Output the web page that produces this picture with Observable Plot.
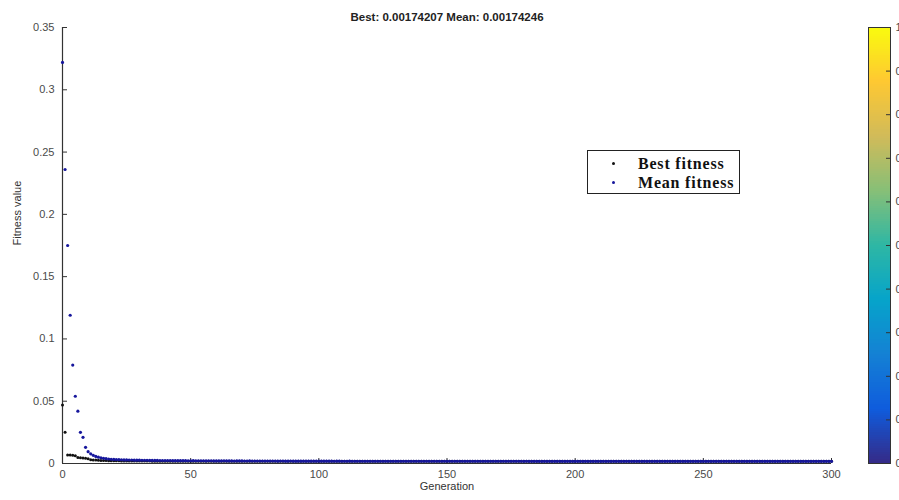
<!DOCTYPE html>
<html>
<head>
<meta charset="utf-8">
<script src="https://cdn.jsdelivr.net/npm/d3@7"></script>
<script src="https://cdn.jsdelivr.net/npm/@observablehq/plot@0.6"></script>
<style>
  body { margin: 0; background: #fff; }
  #wrap { position: relative; width: 899px; height: 500px; overflow: hidden; background: #fff; }
  #wrap svg { position: absolute; left: 0; top: 0; }
  #legend { position: absolute; left: 587px; top: 150px; width: 151px; height: 42px;
            border: 1px solid #222; background: #fff; font-family: "Liberation Serif", "Times New Roman", serif;
            font-weight: bold; font-size: 16px; color: #111; }
  #legend .row { position: absolute; left: 0; height: 20px; line-height: 20px; white-space: nowrap; }
  #legend .dot { position: absolute; left: 24px; top: 8px; width: 3px; height: 3px; border-radius: 50%; }
  #legend .lab { position: absolute; left: 50px; top: 0; letter-spacing: 0.8px; }
</style>
</head>
<body>
<div id="wrap"></div>
<script>
// ---- data ----
const titleText = "Best: 0.00174207 Mean: 0.00174246";
const xLabel = "Generation";
const yLabel = "Fitness value";
const seriesNames = ["Best fitness", "Mean fitness"];
const seriesColors = ["#111111", "#16169c"];
const xTicks = [0, 50, 100, 150, 200, 250, 300];
const xTickLabels = ["0", "50", "100", "150", "200", "250", "300"];
const yTicks = [0, 0.05, 0.1, 0.15, 0.2, 0.25, 0.3, 0.35];
const yTickLabels = ["0", "0.05", "0.1", "0.15", "0.2", "0.25", "0.3", "0.35"];
const cbTicks = [0, 0.1, 0.2, 0.3, 0.4, 0.5, 0.6, 0.7, 0.8, 0.9, 1];
const cbTickLabels = ["0", "0.1", "0.2", "0.3", "0.4", "0.5", "0.6", "0.7", "0.8", "0.9", "1"];
const parulaStops = [0, 0.125, 0.25, 0.375, 0.5, 0.625, 0.75, 0.875, 1];
const parulaColors = ["#352a87", "#0f5cdd", "#1481d4", "#06a4ca", "#2eb7a4", "#87bf77", "#d1bb59", "#fec832", "#f9fb0e"];

// Mean fitness per generation (0..300)
const meanFitness = [
  0.322,0.236,0.175,0.119,0.079,0.054,0.042,0.025,0.021,0.013,
  0.0095,0.0078,0.0066,0.0057,0.0051,0.0046,0.0042,0.0039,0.0036,0.0034,
  0.0033,0.0032,0.0031,0.0030,0.0029,0.0029,0.0028,0.0028,0.0027,0.0027,
  0.0027,0.0026,0.0026,0.0026,0.0025,0.0025,0.0025,0.0025,0.0024,0.0024,
  0.0024,0.0024,0.0024,0.0023,0.0023,0.0023,0.0023,0.0023,0.0023,0.0022,
  0.0022,0.0023,0.0022,0.0022,0.0022,0.0022,0.0021,0.0022,0.0022,0.0021,
  0.0021,0.0021,0.0021,0.0022,0.0021,0.0021,0.0021,0.0020,0.0021,0.0021,
  0.0021,0.0020,0.0020,0.0021,0.0020,0.0020,0.0020,0.0020,0.0020,0.0020,
  0.0020,0.0020,0.0020,0.0020,0.0019,0.0020,0.0020,0.0019,0.0019,0.0020,
  0.0019,0.0019,0.0019,0.0019,0.0019,0.0019,0.0019,0.0019,0.0019,0.0019,
  0.0019,0.0019,0.0019,0.0019,0.0019,0.0019,0.0018,0.0019,0.0019,0.0018,
  0.0018,0.0018,0.0019,0.0018,0.0018,0.0018,0.0018,0.0018,0.0018,0.0018,
  0.0018,0.0018,0.0018,0.0018,0.0018,0.0018,0.0018,0.0018,0.0018,0.0018,
  0.0018,0.0018,0.0018,0.0018,0.0018,0.0018,0.0018,0.0018,0.0018,0.0018,
  0.0018,0.0018,0.0018,0.0018,0.0018,0.0018,0.0018,0.0018,0.0018,0.0018,
  0.0018,0.0018,0.0018,0.0018,0.0018,0.0018,0.0018,0.0018,0.0018,0.0018,
  0.00179,0.0018,0.0018,0.00179,0.0018,0.00179,0.00179,0.0018,0.00179,0.00179,
  0.00179,0.00179,0.00179,0.00179,0.00179,0.00179,0.00179,0.00179,0.00179,0.00179,
  0.00178,0.00179,0.00178,0.00178,0.00178,0.00178,0.00178,0.00178,0.00178,0.00178,
  0.00178,0.00178,0.00178,0.00178,0.00178,0.00178,0.00178,0.00178,0.00178,0.00178,
  0.00177,0.00177,0.00177,0.00177,0.00177,0.00177,0.00177,0.00177,0.00177,0.00177,
  0.00177,0.00177,0.00177,0.00177,0.00177,0.00177,0.00177,0.00177,0.00177,0.00177,
  0.00176,0.00176,0.00176,0.00176,0.00176,0.00176,0.00176,0.00176,0.00176,0.00176,
  0.00176,0.00176,0.00176,0.00176,0.00176,0.00176,0.00176,0.00176,0.00176,0.00176,
  0.00176,0.00176,0.00176,0.00175,0.00175,0.00175,0.00175,0.00175,0.00175,0.00175,
  0.00175,0.00175,0.00175,0.00175,0.00175,0.00175,0.00175,0.00175,0.00175,0.00175,
  0.00175,0.00175,0.00175,0.00175,0.00175,0.00175,0.00175,0.00175,0.00175,0.00175,
  0.00175,0.00175,0.00175,0.00175,0.00175,0.00175,0.00175,0.00175,0.00175,0.00175,
  0.00175,0.00175,0.00175,0.00175,0.00175,0.00175,0.00175,0.00175,0.00175,0.00175,
  0.00175,0.00175,0.00175,0.00175,0.00175,0.00175,0.00175,0.00175,0.00175,0.00174,
  0.00174246
];

// Best fitness per generation (0..300)
const bestFitness = [
  0.047,0.025,0.0068,0.0068,0.0066,0.0062,0.0048,0.0047,0.0045,0.0043,
  0.0038,0.0031,0.0029,0.0028,0.0026,0.0025,0.0024,0.0024,0.0023,0.0023,
  0.0022,0.0022,0.0022,0.0021,0.0021,0.0021,0.0021,0.0020,0.0020,0.0020,
  0.0020,0.0020,0.0020,0.0020,0.0020,0.0019,0.0019,0.0019,0.0019,0.0019,
  0.0019,0.0019,0.0019,0.0019,0.0019,0.0019,0.0019,0.0019,0.0019,0.0019,
  0.0019,0.0019,0.0019,0.0019,0.0019,0.0019,0.0019,0.0019,0.0019,0.0019,
  0.0019,0.0019,0.0019,0.00185,0.00185,0.00185,0.00185,0.00185,0.00185,0.00185,
  0.00185,0.00185,0.00185,0.00185,0.00185,0.00185,0.00185,0.00185,0.00185,0.00185,
  0.00185,0.00185,0.00185,0.00185,0.00185,0.00185,0.00185,0.00185,0.00185,0.00185,
  0.00185,0.00185,0.00185,0.00185,0.00185,0.00185,0.00185,0.00185,0.00185,0.00185,
  0.0018,0.0018,0.0018,0.0018,0.0018,0.0018,0.0018,0.0018,0.0018,0.0018,
  0.0018,0.0018,0.0018,0.0018,0.0018,0.0018,0.0018,0.0018,0.0018,0.0018,
  0.0018,0.0018,0.0018,0.0018,0.0018,0.0018,0.0018,0.0018,0.0018,0.0018,
  0.0018,0.0018,0.0018,0.0018,0.0018,0.0018,0.0018,0.0018,0.0018,0.0018,
  0.0018,0.0018,0.0018,0.0018,0.0018,0.0018,0.0018,0.0018,0.0018,0.0018,
  0.00178,0.00178,0.00178,0.00178,0.00178,0.00178,0.00178,0.00178,0.00178,0.00178,
  0.00178,0.00178,0.00178,0.00178,0.00178,0.00178,0.00178,0.00178,0.00178,0.00178,
  0.00177,0.00177,0.00177,0.00177,0.00177,0.00177,0.00177,0.00177,0.00177,0.00177,
  0.00177,0.00177,0.00177,0.00177,0.00177,0.00177,0.00177,0.00177,0.00177,0.00177,
  0.00177,0.00177,0.00177,0.00177,0.00177,0.00177,0.00177,0.00177,0.00177,0.00177,
  0.00176,0.00176,0.00176,0.00176,0.00176,0.00176,0.00176,0.00176,0.00176,0.00176,
  0.00176,0.00176,0.00176,0.00176,0.00176,0.00176,0.00176,0.00176,0.00176,0.00176,
  0.00176,0.00176,0.00176,0.00176,0.00176,0.00176,0.00176,0.00176,0.00176,0.00176,
  0.00175,0.00175,0.00175,0.00175,0.00175,0.00175,0.00175,0.00175,0.00175,0.00175,
  0.00175,0.00175,0.00175,0.00175,0.00175,0.00175,0.00175,0.00175,0.00175,0.00175,
  0.00175,0.00175,0.00175,0.00175,0.00175,0.00175,0.00175,0.00175,0.00175,0.00175,
  0.00175,0.00175,0.00175,0.00175,0.00175,0.00175,0.00175,0.00175,0.00175,0.00175,
  0.00175,0.00175,0.00175,0.00175,0.00175,0.00175,0.00175,0.00175,0.00175,0.00175,
  0.00174,0.00174,0.00174,0.00174,0.00174,0.00174,0.00174,0.00174,0.00174,0.00174,
  0.00174,0.00174,0.00174,0.00174,0.00174,0.00174,0.00174,0.00174,0.00174,0.00174,
  0.00174207
];

// ---- build ----
const bestRows = bestFitness.map((v, i) => ({gen: i, value: v}));
const meanRows = meanFitness.map((v, i) => ({gen: i, value: v}));

const W = 899, H = 500;
const mL = 62, mR = 68, mT = 27, mB = 37;
const plotW = W - mL - mR, plotH = H - mT - mB;
const tickLen = 5;
const axisColor = "#333";
const labelColor = "#4a4a4a";

const main = Plot.plot({
  width: W, height: H,
  marginLeft: mL, marginRight: mR, marginTop: mT, marginBottom: mB,
  style: {background: "transparent", fontFamily: "'Liberation Sans', Arial, sans-serif", fontSize: "11px", color: labelColor, overflow: "visible"},
  x: {domain: [0, 300]},
  y: {domain: [0, 0.35]},
  marks: [
    Plot.axisX(xTicks, {tickSize: 0, tickPadding: 7, label: null, tickFormat: (d, i) => xTickLabels[i], fill: labelColor, fontSize: 11}),
    Plot.axisY(yTicks, {tickSize: 0, tickPadding: 8, label: null, tickFormat: (d, i) => yTickLabels[i], fill: labelColor, fontSize: 11}),
    Plot.tickX(xTicks, {x: d => d, insetTop: plotH - tickLen, stroke: axisColor}),
    Plot.tickY(yTicks, {y: d => d, insetRight: plotW - tickLen, stroke: axisColor}),
    Plot.ruleX([0], {stroke: axisColor, strokeWidth: 1.2}),
    Plot.ruleY([0], {stroke: axisColor, strokeWidth: 1.2}),
    Plot.dot(bestRows, {x: "gen", y: "value", r: 1.5, fill: seriesColors[0], stroke: null}),
    Plot.dot(meanRows, {x: "gen", y: "value", r: 1.6, fill: seriesColors[1], stroke: null}),
    Plot.text([titleText], {text: d => d, frameAnchor: "top", dy: -15, fontWeight: "bold", fontSize: 11.5, fill: "#222"}),
    Plot.text([xLabel], {text: d => d, frameAnchor: "bottom", dy: 26, fontSize: 11, fill: "#333"}),
    Plot.text([yLabel], {text: d => d, frameAnchor: "left", dx: -45, rotate: -90, fontSize: 11, fill: "#333"})
  ]
});

const cbStep = 0.005;
const cbCells = d3.range(0, 1, cbStep);
const colorbar = Plot.plot({
  width: W, height: H,
  marginLeft: 868, marginRight: W - 890, marginTop: mT, marginBottom: mB,
  style: {background: "transparent", fontFamily: "'Liberation Sans', Arial, sans-serif", fontSize: "11px", color: labelColor, overflow: "visible"},
  y: {domain: [0, 1]},
  color: {type: "linear", domain: parulaStops, range: parulaColors},
  marks: [
    Plot.rect(cbCells, {y1: d => d, y2: d => Math.min(1, d + cbStep * 1.6), fill: d => d + cbStep / 2, shapeRendering: "crispEdges"}),
    Plot.tickY(cbTicks, {y: d => d, insetLeft: 22 - 4, stroke: axisColor}),
    Plot.frame({stroke: axisColor, strokeWidth: 1}),
    Plot.axisY(cbTicks, {anchor: "right", tickSize: 0, tickPadding: 5, label: null, tickFormat: (d, i) => cbTickLabels[i], fill: labelColor, fontSize: 11})
  ]
});

const wrap = document.getElementById("wrap");
wrap.appendChild(main);
wrap.appendChild(colorbar);

// legend (HTML overlay)
const legend = document.createElement("div");
legend.id = "legend";
seriesNames.forEach((name, i) => {
  const row = document.createElement("div");
  row.className = "row";
  row.style.top = (3 + i * 19) + "px";
  const dot = document.createElement("span");
  dot.className = "dot";
  dot.style.background = seriesColors[i];
  const lab = document.createElement("span");
  lab.className = "lab";
  lab.textContent = name;
  row.appendChild(dot);
  row.appendChild(lab);
  legend.appendChild(row);
});
wrap.appendChild(legend);
</script>
</body>
</html>
